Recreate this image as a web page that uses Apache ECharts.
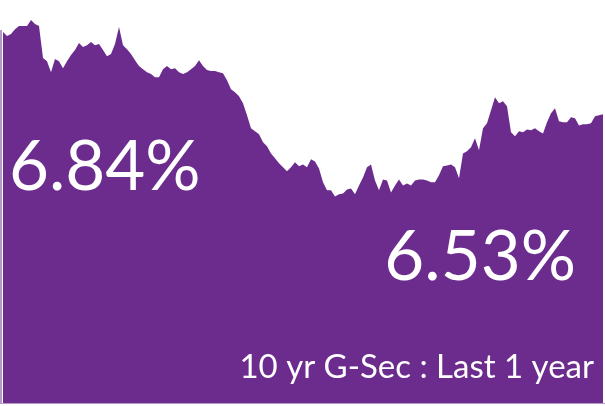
<!DOCTYPE html>
<html>
<head>
<meta charset="utf-8">
<script src="https://cdn.jsdelivr.net/npm/echarts@6/dist/echarts.min.js"></script>
<style>
html,body{margin:0;padding:0;background:#ffffff;}
#chart{width:605px;height:406px;}
</style>
</head>
<body>
<div id="chart"></div>
<script>
// 10 yr G-Sec yield (%), last 1 year (weekly-ish samples)
const yieldsPart1 = [6.840,6.825,6.833,6.851,6.863,6.863,6.863,6.885,6.870,6.863,
  6.743,6.731,6.690,6.739,6.731,6.705,6.731,6.754,6.773,6.799,
  6.784,6.791,6.803,6.791,6.795,6.773,6.750,6.758,6.795,6.859,
  6.791,6.776,6.758,6.735,6.713,6.701,6.690,6.683,6.671,6.671];
const yieldsPart2 = [6.701,6.713,6.701,6.705,6.690,6.683,6.690,6.701,6.713,6.735,
  6.713,6.698,6.694,6.694,6.690,6.686,6.660,6.626,6.615,6.600,
  6.574,6.529,6.480,6.469,6.458,6.428,6.413,6.386,6.368,6.349,
  6.334,6.319,6.334,6.353,6.338,6.345,6.334,6.364,6.356,6.330];
const yieldsPart3 = [6.278,6.248,6.248,6.225,6.233,6.236,6.251,6.255,6.233,6.266,
  6.296,6.334,6.345,6.285,6.248,6.289,6.285,6.240,6.266,6.289,
  6.266,6.274,6.266,6.285,6.289,6.289,6.285,6.278,6.278,6.304,
  6.338,6.341,6.345,6.334,6.293,6.386,6.394,6.409,6.443,6.398];
const yieldsPart4 = [6.480,6.499,6.548,6.596,6.574,6.581,6.563,6.465,6.450,6.469,
  6.465,6.476,6.473,6.480,6.469,6.461,6.503,6.536,6.555,6.506,
  6.503,6.503,6.521,6.518,6.491,6.495,6.495,6.499,6.525,6.529,6.533];
const yields = yieldsPart1.concat(yieldsPart2, yieldsPart3, yieldsPart4);
const categories = yields.map((_, i) => 'P' + (i + 1));

const startLabel = '6.84%';
const endLabel = '6.53%';
const caption = '10 yr G-Sec : Last 1 year';

const purple = '#6c2c8e';

const chart = echarts.init(document.getElementById('chart'), null, {renderer: 'canvas'});
chart.setOption({
  animation: false,
  backgroundColor: '#ffffff',
  grid: {left: 3, right: 2, top: 0, bottom: 3},
  xAxis: {
    type: 'category', data: categories, boundaryGap: false,
    show: false
  },
  yAxis: {
    type: 'value', min: 5.4525, max: 6.96, show: false
  },
  series: [{
    type: 'line', data: yields, symbol: 'none',
    lineStyle: {width: 0, color: purple},
    areaStyle: {color: purple, opacity: 1},
    silent: true
  }],
  graphic: [
    {type: 'rect', z: 100, left: 0, top: 30, shape: {width: 2, height: 373}, style: {fill: '#b39ac7'}, silent: true},
    {type: 'rect', z: 100, left: 0, top: 403, shape: {width: 605, height: 1}, style: {fill: '#b39ac7'}, silent: true},
    {type: 'text', z: 100, x: 9, y: 168, style: {text: startLabel, fill: '#ffffff', font: '400 69px Lato', verticalAlign: 'middle', align: 'left'}, silent: true},
    {type: 'text', z: 100, x: 576, y: 258, style: {text: endLabel, fill: '#ffffff', font: '400 69px Lato', verticalAlign: 'middle', align: 'right'}, silent: true},
    {type: 'text', z: 100, x: 594, y: 367, style: {text: caption, fill: '#ffffff', font: '400 33px Lato', verticalAlign: 'middle', align: 'right'}, silent: true}
  ]
});
</script>
</body>
</html>
